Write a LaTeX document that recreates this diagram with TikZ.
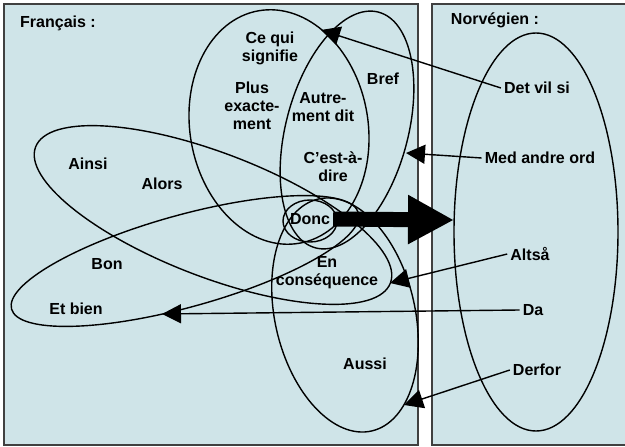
\documentclass[tikz,border=0pt]{standalone}
\usepackage{fontspec}
\setmainfont{Liberation Sans}
\usetikzlibrary{arrows.meta}
\definecolor{fond}{RGB}{207,228,232}
\tikzset{
  panneau/.style = 	{draw=black!75, line width=1.6pt, fill=fond},
  groupe/.style = 	{draw, line width=1.4pt},
  mot/.style = 	{font=\fontsize{16}{18}\selectfont\bfseries,
				align=center, inner sep=3pt},
  renvoi/.style = 	{draw, line width=1.4pt,
				-{Triangle[length=19pt, width=19pt]}},
  fleche/.style = 	{draw, line width=15pt,
				-{Triangle[length=46pt, width=46pt]}},
}

\begin{document}
\begin{tikzpicture}
	[
		x                 = 1pt,
		y                 = -1pt,
		every node/.style = {mot}
	]
	\useasboundingbox (0,0) rectangle (625,447);
	\draw [panneau] (4,4) rectangle (418,445);
	\fill [fond] (432,4) rectangle (625,445);
	\draw [panneau, fill=none] (625,4) -- (432,4) -- (432,445) -- (625,445);

	\draw [groupe, rotate around={-80:(279,127)}] (279,127) ellipse (118 and 89);
	\draw [groupe, rotate around={75:(347,130)}] (347,130) ellipse (122 and 61);
	\draw [groupe, rotate around={-21:(213,215)}] (213,215) ellipse (190 and 62);
	\draw [groupe, rotate around={15.5:(185,261)}] (185,261) ellipse (180 and 46);
	\draw [groupe, rotate around={-77:(345,315)}] (345,315) ellipse (119 and 70);
	\draw [groupe] (310,221) ellipse (27 and 21);
	\draw [groupe] (536,232) ellipse (82 and 199);

	\node (francais) at (58,23) {Français :};
	\node (norvegien) at (495,20) {Norvégien :};
	\node (cequi) at (270,48) {Ce qui\\signifie};
	\node (plus) at (252,106) {Plus\\exacte-\\ment};
	\node (autrement) at (323,107) {Autre-\\ment dit};
	\node (bref) at (383,79) {Bref};
	\node (cestadire) at (333,167) {C’est-à-\\dire};
	\node (ainsi) at (88,164) {Ainsi};
	\node (alors) at (162,184) {Alors};
	\node (donc) at (310,219) {Donc};
	\node (bon) at (107,264) {Bon};
	\node (etbien) at (76,309) {Et bien};
	\node (enconsequence) at (327,273) {En\\conséquence};
	\node (aussi) at (365,364) {Aussi};

	\node (detvilsi) at (537,88) {Det vil si};
	\node (medandreord) at (540,158) {Med andre ord};
	\node (altsa) at (530,254) {Altså};
	\node (da) at (533,310) {Da};
	\node (derfor) at (537,370) {Derfor};

	\coordinate (pA) at (321,30);
	\coordinate (pB) at (406,153);
	\coordinate (pC) at (390,283);
	\coordinate (pD) at (162,314);
	\coordinate (pF) at (404,405);
	\coordinate (pN) at (454,220);

	\draw [renvoi] (detvilsi.west) -- (pA);
	\draw [renvoi] (medandreord.west) -- (pB);
	\draw [renvoi] (altsa.west) -- (pC);
	\draw [renvoi] (da.west) -- (pD);
	\draw [renvoi] (derfor.west) -- (pF);
	\draw [fleche] (donc.east) -- (pN);
\end{tikzpicture}
\end{document}
